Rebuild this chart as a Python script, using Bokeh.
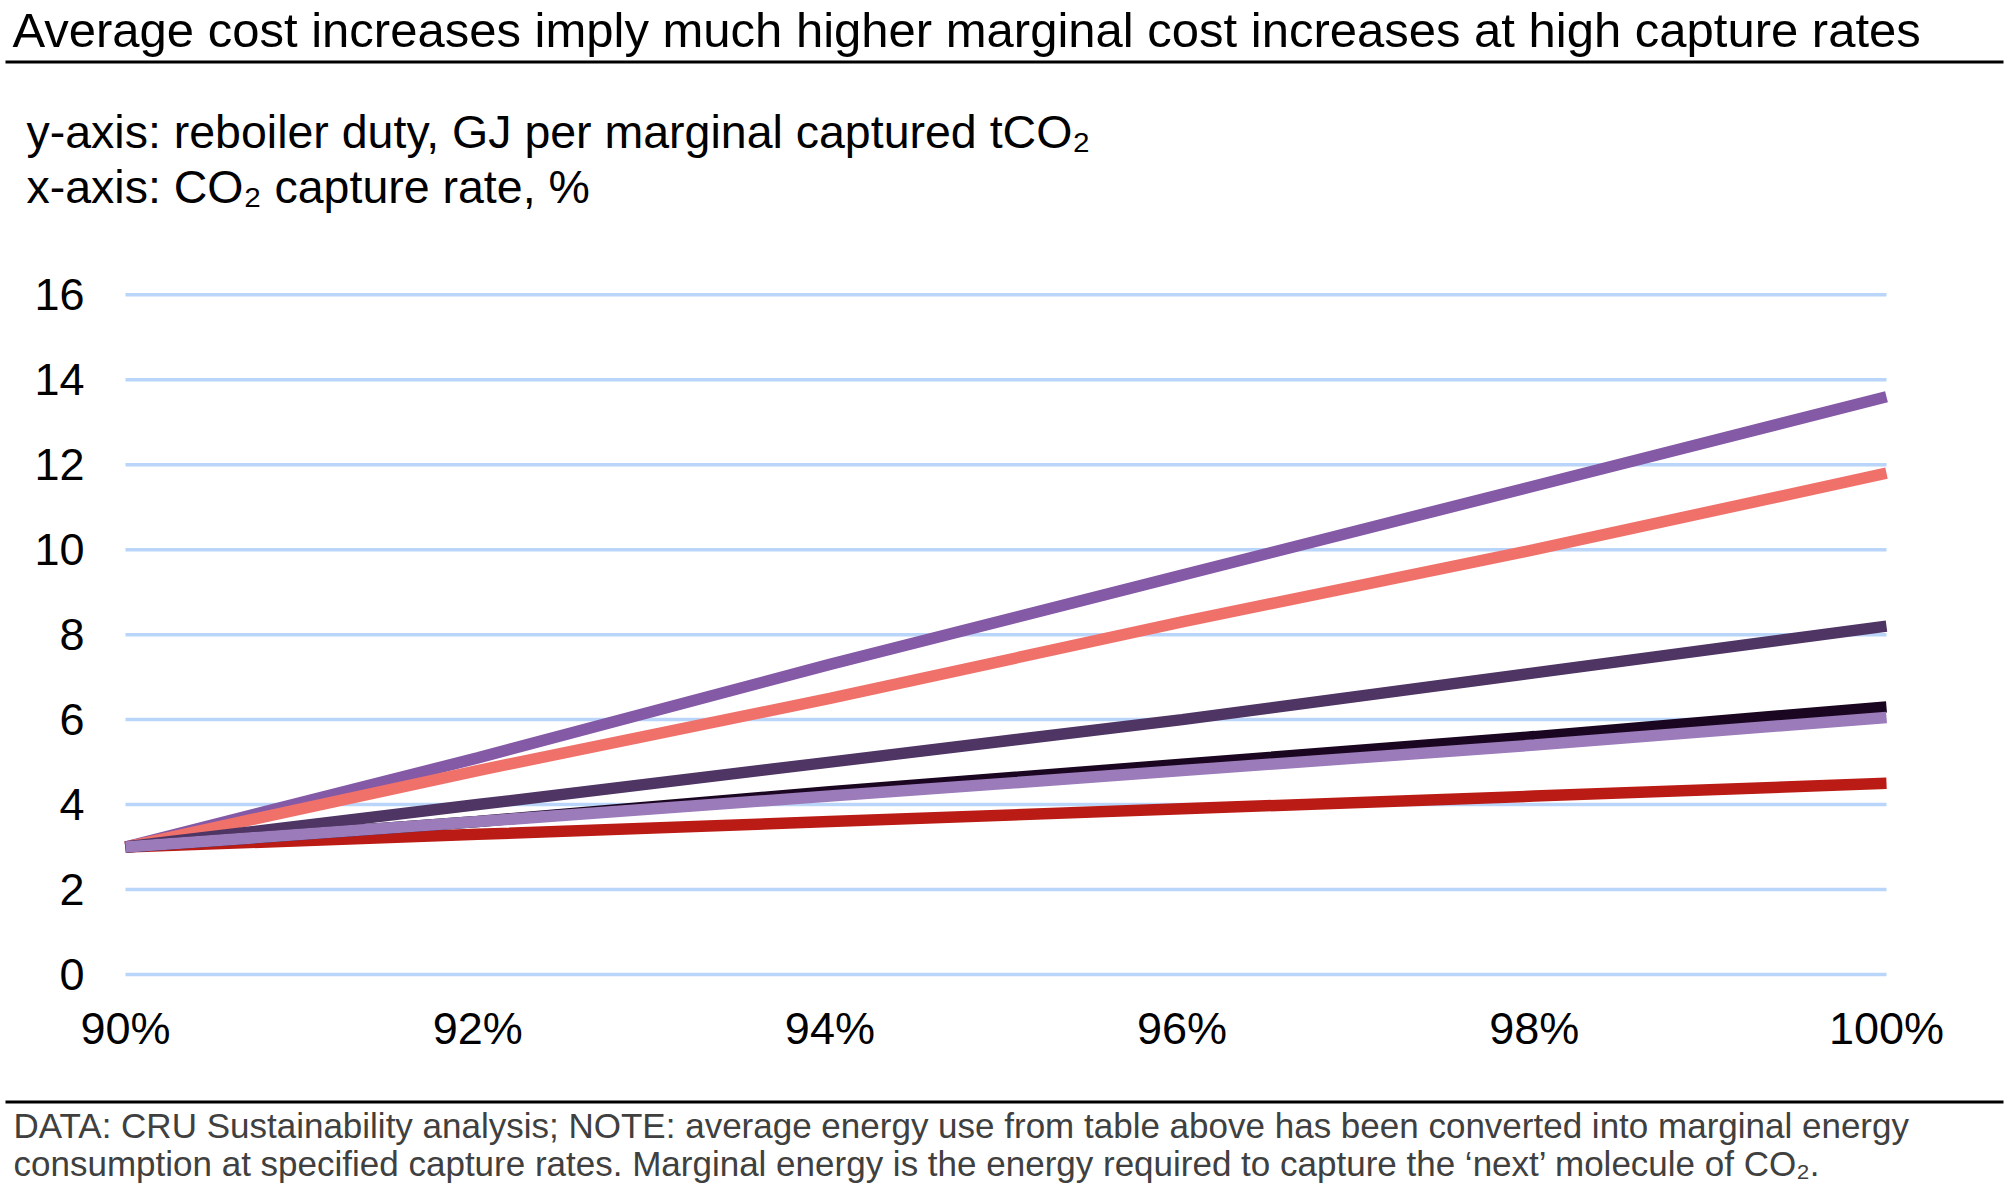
from bokeh.plotting import figure
from bokeh.models import Range1d
from bokeh.core.properties import value
from bokeh.embed import file_html
from bokeh.resources import INLINE

# ---- data ----
capture_rate = [90, 92, 94, 96, 98, 100]
series_a = [3.0, 5.1, 7.3, 9.4, 11.5, 13.6]   # purple
series_b = [3.0, 4.8, 6.5, 8.3, 10.0, 11.8]   # salmon
series_c = [3.0, 4.0, 5.0, 6.0, 7.1, 8.2]     # dark purple
series_d = [3.0, 3.3, 3.6, 3.9, 4.2, 4.5]     # red
series_e = [3.0, 3.6, 4.3, 4.95, 5.6, 6.3]    # near-black
series_f = [3.0, 3.6, 4.2, 4.8, 5.4, 6.05]    # light purple
y_ticks = [0, 2, 4, 6, 8, 10, 12, 14, 16]
x_ticks = [90, 92, 94, 96, 98, 100]
x_tick_labels = ["90%", "92%", "94%", "96%", "98%", "100%"]
y_tick_labels = ["0", "2", "4", "6", "8", "10", "12", "14", "16"]

title_text = "Average cost increases imply much higher marginal cost increases at high capture rates"
sub1_text = "y-axis: reboiler duty, GJ per marginal captured tCO\u2082"
sub2_text = "x-axis: CO\u2082 capture rate, %"
foot1_text = ("DATA: CRU Sustainability analysis; NOTE: average energy use from table above "
              "has been converted into marginal energy")
foot2_text = ("consumption at specified capture rates. Marginal energy is the energy required "
              "to capture the \u2018next\u2019 molecule of CO\u2082.")

FONT = "Liberation Sans"
W, H = 2012, 1185

# plot area geometry (canvas pixels): x 90..100 -> 125..1886, y 0..16 -> 974..294.3
X0_PX, X1_PX = 125.0, 1886.0
Y0_PX, Y1_PX = 974.0, 294.3
xs = (X1_PX - X0_PX) / (x_ticks[-1] - x_ticks[0])
ys = (Y0_PX - Y1_PX) / (y_ticks[-1] - y_ticks[0])
x_range = Range1d(x_ticks[0] - X0_PX / xs, x_ticks[-1] + (W - X1_PX) / xs)
y_range = Range1d(y_ticks[0] - (H - Y0_PX) / ys, y_ticks[-1] + Y1_PX / ys)

p = figure(width=W, height=H, output_backend="svg", toolbar_location=None,
           x_range=x_range, y_range=y_range, x_axis_type=None, y_axis_type=None,
           min_border=0, min_border_left=0, min_border_right=0,
           min_border_top=0, min_border_bottom=0)
p.outline_line_color = None
p.background_fill_color = "white"
p.border_fill_color = "white"
p.extra_x_ranges = {"px": Range1d(0, W)}
p.extra_y_ranges = {"px": Range1d(H, 0)}

# horizontal gridlines at the y ticks, spanning the x extent
p.segment(x0=[x_ticks[0]] * len(y_ticks), x1=[x_ticks[-1]] * len(y_ticks),
          y0=y_ticks, y1=y_ticks, line_color="#BAD5FA", line_width=3.5)

# tick labels
p.text(x=x_ticks, y=[1028] * len(x_ticks), y_range_name="px", text=x_tick_labels,
       text_font=value(FONT), text_font_size=value("45px"), text_color="black",
       text_align="center", text_baseline="middle")
p.text(x=[84] * len(y_ticks), x_range_name="px", y=y_ticks, text=y_tick_labels,
       text_font=value(FONT), text_font_size=value("45px"), text_color="black",
       text_align="right", text_baseline="middle")

# series
lw = 11.5
p.line(capture_rate, series_a, line_color="#8459A6", line_width=lw, line_cap="butt")
p.line(capture_rate, series_b, line_color="#EF716A", line_width=lw, line_cap="butt")
p.line(capture_rate, series_c, line_color="#4E3564", line_width=lw, line_cap="butt")
p.line(capture_rate, series_d, line_color="#BA1B14", line_width=lw, line_cap="butt")
p.line(capture_rate, series_e, line_color="#1A0620", line_width=lw, line_cap="butt")
p.line(capture_rate, series_f, line_color="#9B7BBA", line_width=lw, line_cap="butt")


def put_text(txt, x, baseline, size, color="black"):
    # vertical placement by the text middle: baseline minus ~0.3465 em
    p.text(x=[x], y=[baseline - 0.3465 * size], x_range_name="px", y_range_name="px",
           text=[txt], text_font=value(FONT), text_font_size=value(f"{size}px"),
           text_color=color, text_baseline="middle", text_align="left")


def put_rule(y):
    p.segment(x0=[5], x1=[2003], y0=[y], y1=[y], x_range_name="px", y_range_name="px",
              line_color="black", line_width=3.2)


put_text(title_text, 12, 46.7, 49)
put_rule(61.5)
put_text(sub1_text, 26, 148, 46.5)
put_text(sub2_text, 26, 203, 46.5)
put_rule(1101.5)
put_text(foot1_text, 13, 1137, 35, "#404040")
put_text(foot2_text, 13, 1175, 35, "#404040")

open("out.html", "w").write(file_html(p, INLINE))
